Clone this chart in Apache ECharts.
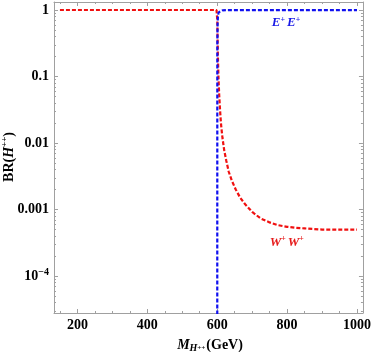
<!DOCTYPE html>
<html><head><meta charset="utf-8">
<script src="https://cdn.jsdelivr.net/npm/echarts@6/dist/echarts.min.js"></script>
<style>html,body{margin:0;padding:0;background:#fff}#c{width:374px;height:352px}</style>
</head><body><div id="c"></div>
<script>
// Data
const wwMass = [150, 300, 450, 598, 599.5, 600.3, 601, 602, 603.5, 605.5, 608, 611, 615, 620, 626, 633, 642, 653, 666, 680, 700, 725, 750, 775, 800, 825, 850, 875, 900, 950, 1000];
const wwBR   = [1, 1, 1, 1, 0.95, 0.7, 0.4, 0.2, 0.1, 0.055, 0.032, 0.019, 0.012, 0.0078, 0.0054, 0.0037, 0.0027, 0.002, 0.0015, 0.0012, 0.00092, 0.00073, 0.00064, 0.00058, 0.00055, 0.00053, 0.00052, 0.00051, 0.0005, 0.0005, 0.0005];
const eeMass = [600, 600.3, 601, 602, 604, 608, 615, 630, 660, 700, 800, 900, 1000];
const eeBR   = [1e-9, 0.3, 0.6, 0.8, 0.92, 0.97, 0.988, 0.996, 0.998, 0.999, 0.9995, 0.9995, 0.9995];
const xMajorTicks = [200, 400, 600, 800, 1000];
const xTickLabels = ['200', '400', '600', '800', '1000'];
const xMinorTicks = [150, 250, 300, 350, 450, 500, 550, 650, 700, 750, 850, 900, 950];
const yMajorTicks = [1e-4, 1e-3, 0.01, 0.1, 1];
const yTickLabels = ['10{sup|−4}', '0.001', '0.01', '0.1', '1'];
const yMinorTicks = [3e-5,4e-5,5e-5,6e-5,7e-5,8e-5,9e-5,
  2e-4,3e-4,4e-4,5e-4,6e-4,7e-4,8e-4,9e-4,
  2e-3,3e-3,4e-3,5e-3,6e-3,7e-3,8e-3,9e-3,
  0.02,0.03,0.04,0.05,0.06,0.07,0.08,0.09,
  0.2,0.3,0.4,0.5,0.6,0.7,0.8,0.9];
const eeLabelPos = [800, 0.64];
const wwLabelPos = [802, 3.2e-4];

const X_MIN = 133, X_MAX = 1017, Y_MIN = 2.78e-5, Y_MAX = 1.32;
const FRAME = '#a0a0a0';
const SERIF = '"Liberation Serif","DejaVu Serif",serif';

function xAx(pos, ticks, len, labels, line) {
  return {
    type: 'value', position: pos, min: X_MIN, max: X_MAX,
    axisLine: { show: line, lineStyle: { color: FRAME, width: 1 } },
    axisTick: { show: true, inside: true, length: len, customValues: ticks, lineStyle: { color: FRAME } },
    axisLabel: labels ? { show: true, customValues: ticks, margin: 5, color: '#000', fontFamily: SERIF, fontWeight: 'bold', fontSize: 14,
      formatter: function (v) { const i = xMajorTicks.findIndex(t => Math.abs(t - v) < 1e-6); return i >= 0 ? xTickLabels[i] : String(v); } } : { show: false },
    splitLine: { show: false }
  };
}
function yAx(pos, ticks, len, labels, line) {
  return {
    type: 'log', logBase: 10, position: pos, min: Y_MIN, max: Y_MAX,
    axisLine: { show: line, lineStyle: { color: FRAME, width: 1 } },
    axisTick: { show: true, inside: true, length: len, customValues: ticks, lineStyle: { color: FRAME } },
    axisLabel: labels ? {
      show: true, customValues: ticks, margin: 5, color: '#000', fontFamily: SERIF, fontWeight: 'bold', fontSize: 14,
      formatter: function (v) { const e = Math.round(Math.log10(v)); return yTickLabels[yMajorTicks.findIndex(t => Math.round(Math.log10(t)) === e)]; },
      rich: { sup: { fontFamily: SERIF, fontWeight: 'bold', fontSize: 10, verticalAlign: 'top', padding: [0, 0, 8, 0] } }
    } : { show: false },
    splitLine: { show: false }
  };
}

const chart = echarts.init(document.getElementById('c'), null, { renderer: 'canvas' });
chart.setOption({
  animation: false,
  backgroundColor: '#fff',
  grid: { left: 54, right: 8, top: 2, bottom: 39, containLabel: false },
  xAxis: [
    xAx('bottom', xMajorTicks, 4, true, true),
    xAx('bottom', xMinorTicks, 2, false, false),
    xAx('top', xMajorTicks, 4, false, true),
    xAx('top', xMinorTicks, 2, false, false)
  ],
  yAxis: [
    yAx('left', yMajorTicks, 4, true, true),
    yAx('left', yMinorTicks, 2, false, false),
    yAx('right', yMajorTicks, 4, false, true),
    yAx('right', yMinorTicks, 2, false, false)
  ],
  series: [
    { type: 'line', xAxisIndex: 0, yAxisIndex: 0, data: wwMass.map((m, i) => [m, wwBR[i]]), showSymbol: false, symbol: 'none', clip: true,
      lineStyle: { color: '#f01010', width: 2.2, type: [4, 2] } },
    { type: 'line', xAxisIndex: 0, yAxisIndex: 0, data: eeMass.map((m, i) => [m, eeBR[i]]), showSymbol: false, symbol: 'none', clip: true,
      lineStyle: { color: '#1010f0', width: 2.2, type: [4, 2] } }
  ]
});

const pe = chart.convertToPixel({ xAxisIndex: 0, yAxisIndex: 0 }, eeLabelPos);
const pw = chart.convertToPixel({ xAxisIndex: 0, yAxisIndex: 0 }, wwLabelPos);
function particle(txt, color) {
  return {
    text: '{e|' + txt + '}{p|+}{e|' + txt + '}{p|+}',
    fill: color, align: 'center', verticalAlign: 'middle',
    rich: {
      e: { fontFamily: SERIF, fontStyle: 'italic', fontWeight: 'bold', fontSize: 13, fill: color },
      p: { fontFamily: SERIF, fontWeight: 'bold', fontSize: 8, fill: color, verticalAlign: 'top', padding: [0, 2, 6, 0] }
    }
  };
}
chart.setOption({
  graphic: [
    { type: 'text', x: pe[0], y: pe[1], style: particle('E', '#1a1ae6') },
    { type: 'text', x: pw[0], y: pw[1], style: particle('W', '#e61a1a') },
    { type: 'text', x: 9, y: 157, rotation: Math.PI / 2,
      style: { text: '{b|BR(}{i|H}{s|++}{b|)}', align: 'center', verticalAlign: 'middle',
        rich: {
          b: { fontFamily: SERIF, fontWeight: 'bold', fontSize: 14, fill: '#000' },
          i: { fontFamily: SERIF, fontWeight: 'bold', fontStyle: 'italic', fontSize: 14, fill: '#000' },
          s: { fontFamily: SERIF, fontWeight: 'bold', fontSize: 9, fill: '#000', verticalAlign: 'top', padding: [0, 0, 8, 0] }
        } } },
    { type: 'text', x: 210, y: 345,
      style: { text: '{i|M}{sub|H}{ss|++}{b|(GeV)}', align: 'center', verticalAlign: 'middle',
        rich: {
          b: { fontFamily: SERIF, fontWeight: 'bold', fontSize: 14, fill: '#000' },
          i: { fontFamily: SERIF, fontWeight: 'bold', fontStyle: 'italic', fontSize: 14, fill: '#000' },
          sub: { fontFamily: SERIF, fontWeight: 'bold', fontStyle: 'italic', fontSize: 10, fill: '#000', verticalAlign: 'bottom', padding: [6, 0, 0, 0] },
          ss: { fontFamily: SERIF, fontWeight: 'bold', fontSize: 7, fill: '#000', verticalAlign: 'bottom', padding: [0, 1, 1, 0] }
        } } }
  ]
});
</script></body></html>
